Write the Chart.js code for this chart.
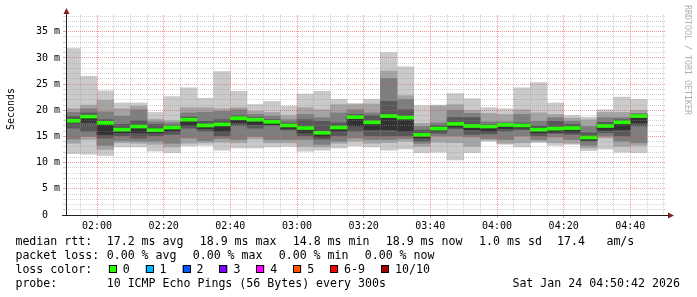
<!DOCTYPE html>
<html><head><meta charset="utf-8">
<script src="https://cdn.jsdelivr.net/npm/chart.js@4"></script>
<style>html,body{margin:0;padding:0;background:#fff;overflow:hidden}</style>
</head><body>
<canvas id="c" width="697" height="297"></canvas>
<script>
// ---- data ----
const barEnd = ["01:55","02:00","02:05","02:10","02:15","02:20","02:25","02:30","02:35","02:40","02:45","02:50","02:55","03:00","03:05","03:10","03:15","03:20","03:25","03:30","03:35","03:40","03:45","03:50","03:55","04:00","04:05","04:10","04:15","04:20","04:25","04:30","04:35","04:40","04:45"];
const axisStart = "01:50:42";
const axisEnd = "04:50:42";
const stepMinutes = 5;
const xTickLabels = ["02:00","02:20","02:40","03:00","03:20","03:40","04:00","04:20","04:40"];
const yTickValues = [0,5,10,15,20,25,30,35];
const yTickLabels = ["0","5 m","10 m","15 m","20 m","25 m","30 m","35 m"];
const yMax = 38.2;

// sorted pings (ms): ping1 = fastest ... ping10 = slowest
const ping1 = [11.7,11.6,11.4,13.0,13.0,12.2,11.9,13.2,13.3,12.4,12.8,12.8,13.0,13.1,12.2,12.4,12.8,13.2,13.0,12.4,12.6,11.9,12.0,10.5,11.9,14.1,13.5,13.0,13.8,13.3,13.5,12.3,12.6,12.0,11.9];
const ping2 = [13.7,14.4,12.5,13.8,13.7,13.5,13.0,13.7,13.8,13.9,13.8,14.5,13.8,13.8,13.1,13.0,13.7,14.1,13.7,13.8,14.1,13.1,13.9,13.8,13.1,14.3,13.7,13.8,14.1,13.8,13.7,12.8,14.7,13.1,13.3];
const ping3 = [14.5,15.0,13.3,14.2,14.1,14.1,13.7,14.7,14.2,14.6,14.4,15.0,14.4,14.4,14.4,13.5,14.1,14.7,14.4,14.4,14.6,13.7,15.1,15.1,14.9,14.6,14.4,15.1,14.4,14.9,14.4,13.3,15.1,14.1,13.8];
const ping4 = [16.6,16.0,14.7,15.1,14.7,15.1,15.4,16.6,16.0,15.1,17.1,16.6,17.1,16.2,15.1,14.5,15.1,16.0,15.1,15.1,15.1,14.1,15.6,16.5,15.4,15.5,16.0,16.3,15.1,15.6,15.4,14.1,15.7,15.1,17.0];
const ping5 = [17.7,17.7,15.4,15.7,15.7,15.7,16.0,17.1,16.5,16.0,17.6,17.3,17.3,16.5,15.7,14.9,16.0,17.0,16.3,16.3,16.0,14.7,16.0,16.8,16.3,16.0,16.5,16.6,15.7,15.8,15.8,14.3,16.2,16.3,17.6];
const ping6 = [18.2,19.0,17.8,16.5,17.1,16.4,16.9,18.4,17.3,17.5,18.7,18.4,18.0,17.3,16.8,15.9,16.9,18.9,17.9,19.1,18.8,15.5,16.7,17.6,17.2,17.1,17.4,17.3,16.5,16.7,16.8,15.0,17.2,17.9,19.1];
const ping7 = [18.8,19.5,18.2,17.3,18.0,17.3,17.1,18.7,17.9,18.2,19.0,18.6,18.2,17.6,18.2,17.9,17.6,19.2,19.0,21.7,20.1,16.2,17.1,18.6,18.6,17.3,17.5,17.6,17.0,17.9,17.3,15.7,17.7,18.2,19.2];
const ping8 = [19.6,20.3,19.7,18.9,20.1,17.8,17.6,19.5,19.6,19.8,20.1,19.2,18.9,18.2,19.2,18.6,19.5,20.1,19.5,26.1,22.1,16.9,17.6,20.0,19.4,17.8,17.8,19.2,17.9,18.6,17.9,16.9,18.6,18.6,19.4];
const ping9 = [20.3,21.0,21.9,20.3,20.8,18.3,18.0,20.5,20.5,20.3,20.5,19.8,19.6,19.0,20.5,20.1,21.1,21.1,21.2,27.5,22.8,17.5,20.8,21.1,20.0,19.4,19.2,20.1,19.5,19.2,18.5,18.2,19.6,19.6,20.0];
const ping10 = [31.8,26.5,23.7,21.4,21.4,19.6,22.6,24.3,22.3,27.4,23.6,21.1,21.7,20.8,23.1,23.6,22.1,21.3,22.1,31.0,28.3,20.9,21.0,23.2,22.2,20.5,20.3,24.3,25.3,21.4,19.0,18.7,20.1,22.5,22.1];
const median = [18.0,18.8,17.6,16.3,16.9,16.2,16.7,18.2,17.1,17.3,18.5,18.2,17.8,17.1,16.6,15.7,16.7,18.7,17.7,18.9,18.6,15.3,16.5,17.4,17.0,16.9,17.2,17.1,16.3,16.5,16.6,14.8,17.0,17.7,18.9];

const lossLabels = ["0","1","2","3","4","5","6-9","10/10"];
const lossColors = ["#26ff00","#00b8ff","#0059ff","#7e00ff","#ff00ff","#ff5500","#ff0000","#a00000"];

// ---- helpers ----
function toMin(s){ const p = s.split(':').map(Number); return p[0]*60 + p[1] + (p[2]||0)/60; }
const tStart = toMin(axisStart), tEnd = toMin(axisEnd);
const centers = barEnd.map(e => toMin(e) - stepMinutes/2);
const pings = [ping1,ping2,ping3,ping4,ping5,ping6,ping7,ping8,ping9,ping10];
const smokeColors = ['#cacaca','#a4a4a4','#7e7e7e','#585858','#323232'];
const medianHalf = 0.286; // half thickness of the median band (ms)

const datasets = [];
for (let k = 0; k < 5; k++) {
  datasets.push({
    order: 5 - k,
    backgroundColor: smokeColors[k],
    data: centers.map((x, i) => ({x, y: [pings[k][i], pings[9 - k][i]]}))
  });
}
datasets.push({
  order: 0,
  backgroundColor: lossColors[0],
  data: centers.map((x, i) => ({x, y: [median[i] - medianHalf, median[i] + medianHalf]}))
});

const GRID = 'rgba(143,143,143,0.42)';
const MGRID = 'rgba(222,79,79,0.55)';
const MONO = '"DejaVu Sans Mono", monospace';

const decor = {
  id: 'decor',
  afterDraw(chart) {
    const {ctx, chartArea: ca} = chart;
    ctx.save();
    // axes
    ctx.fillStyle = '#202020';
    ctx.fillRect(ca.left, ca.top - 2, 1, ca.bottom - ca.top + 3);
    ctx.fillRect(ca.left - 4, ca.bottom, ca.right - ca.left + 6, 1);
    // arrows
    ctx.fillStyle = '#7f1f1f';
    ctx.beginPath();
    ctx.moveTo(ca.left + 0.5, ca.top - 7);
    ctx.lineTo(ca.left + 3.5, ca.top - 1);
    ctx.lineTo(ca.left - 2.5, ca.top - 1);
    ctx.closePath(); ctx.fill();
    ctx.beginPath();
    ctx.moveTo(ca.right + 8, ca.bottom + 0.5);
    ctx.lineTo(ca.right + 2, ca.bottom - 2.5);
    ctx.lineTo(ca.right + 2, ca.bottom + 3.5);
    ctx.closePath(); ctx.fill();
    // y title
    ctx.save();
    ctx.translate(11, 109);
    ctx.rotate(-Math.PI/2);
    ctx.font = '10px ' + MONO;
    ctx.fillStyle = '#000';
    ctx.textAlign = 'center'; ctx.textBaseline = 'middle';
    ctx.fillText('Seconds', 0, 0);
    ctx.restore();
    // watermark
    ctx.save();
    ctx.translate(687.5, 5);
    ctx.rotate(Math.PI/2);
    ctx.font = '8.3px ' + MONO;
    ctx.fillStyle = '#b0b0b0';
    ctx.textAlign = 'left'; ctx.textBaseline = 'middle';
    ctx.fillText('RRDTOOL / TOBI OETIKER', 0, 0);
    ctx.restore();
    // legend
    ctx.font = '11.6px ' + MONO;
    ctx.fillStyle = '#000';
    ctx.textAlign = 'left'; ctx.textBaseline = 'alphabetic';
    const T = (t, x, y) => ctx.fillText(t, x - 0.6, y);
    T('median rtt:', 16, 245); T('17.2 ms avg', 107.3, 245); T('18.9 ms max', 200.3, 245);
    T('14.8 ms min', 293.3, 245); T('18.9 ms now', 386.3, 245); T('1.0 ms sd', 479.7, 245);
    T('17.4', 557.7, 245); T('am/s', 607, 245);
    T('packet loss:', 16, 259); T('0.00 % avg', 107.3, 259); T('0.00 % max', 193.3, 259);
    T('0.00 % min', 279.3, 259); T('0.00 % now', 365.3, 259);
    T('loss color:', 16, 273);
    let x = 108.7;
    lossLabels.forEach((lab, i) => {
      ctx.fillStyle = lossColors[i];
      ctx.fillRect(x, 265, 8, 8);
      ctx.strokeStyle = '#000'; ctx.lineWidth = 1;
      ctx.strokeRect(Math.round(x) + 0.5, 265.5, 7, 7);
      ctx.fillStyle = '#000';
      T(lab, x + 14.6, 273);
      x += 14.6 + lab.length * 7.0 + 15.3;
    });
    T('probe:', 16, 287); T('10 ICMP Echo Pings (56 Bytes) every 300s', 107.3, 287);
    T('Sat Jan 24 04:50:42 2026', 513, 287);
    ctx.restore();
  }
};

new Chart(document.getElementById('c'), {
  type: 'bar',
  data: {datasets},
  options: {
    responsive: false, animation: false, devicePixelRatio: 1,
    layout: {padding: {left: 0, right: 31, top: 15, bottom: 58}},
    plugins: {legend: {display: false}, tooltip: {enabled: false}},
    datasets: {bar: {barPercentage: 1, categoryPercentage: 1, grouped: false, borderWidth: 0}},
    scales: {
      x: {
        type: 'linear', min: tStart, max: tEnd, offset: false,
        afterFit: s => { s.height = 24; },
        afterBuildTicks: s => {
          const t = [];
          for (let v = Math.ceil(tStart / stepMinutes) * stepMinutes; v <= tEnd; v += stepMinutes) t.push({value: v});
          s.ticks = t;
        },
        grid: {
          z: 1, lineWidth: 1, tickLength: 3, offset: false,
          color: c => (c.tick && c.tick.value % 20 === 0) ? MGRID : GRID,
          tickColor: c => (c.tick && c.tick.value % 20 === 0) ? MGRID : 'rgba(0,0,0,0)'
        },
        border: {display: false, dash: [1, 1]},
        ticks: {
          autoSkip: false, maxRotation: 0, minRotation: 0, padding: 2, color: '#000',
          font: {family: MONO, size: 10},
          callback: v => { const l = xTickLabels.find(s => Math.abs(toMin(s) - v) < 1e-6); return l || ''; }
        }
      },
      y: {
        type: 'linear', min: 0, max: yMax,
        afterFit: s => { s.width = 66; },
        afterBuildTicks: s => {
          const t = [];
          for (let v = 0; v <= Math.floor(yMax); v++) t.push({value: v});
          s.ticks = t;
        },
        grid: {
          z: 1, lineWidth: 1, tickLength: 3,
          color: c => (c.tick && c.tick.value % 5 === 0) ? MGRID : GRID,
          tickColor: c => (c.tick && c.tick.value % 5 === 0) ? MGRID : GRID
        },
        border: {display: false, dash: [1, 1]},
        ticks: {
          autoSkip: false, padding: 3, color: '#000',
          font: {family: MONO, size: 10},
          callback: v => { const i = yTickValues.indexOf(v); return i >= 0 ? yTickLabels[i].padEnd(3) : ''; }
        }
      }
    }
  },
  plugins: [decor]
});
</script>
</body></html>
